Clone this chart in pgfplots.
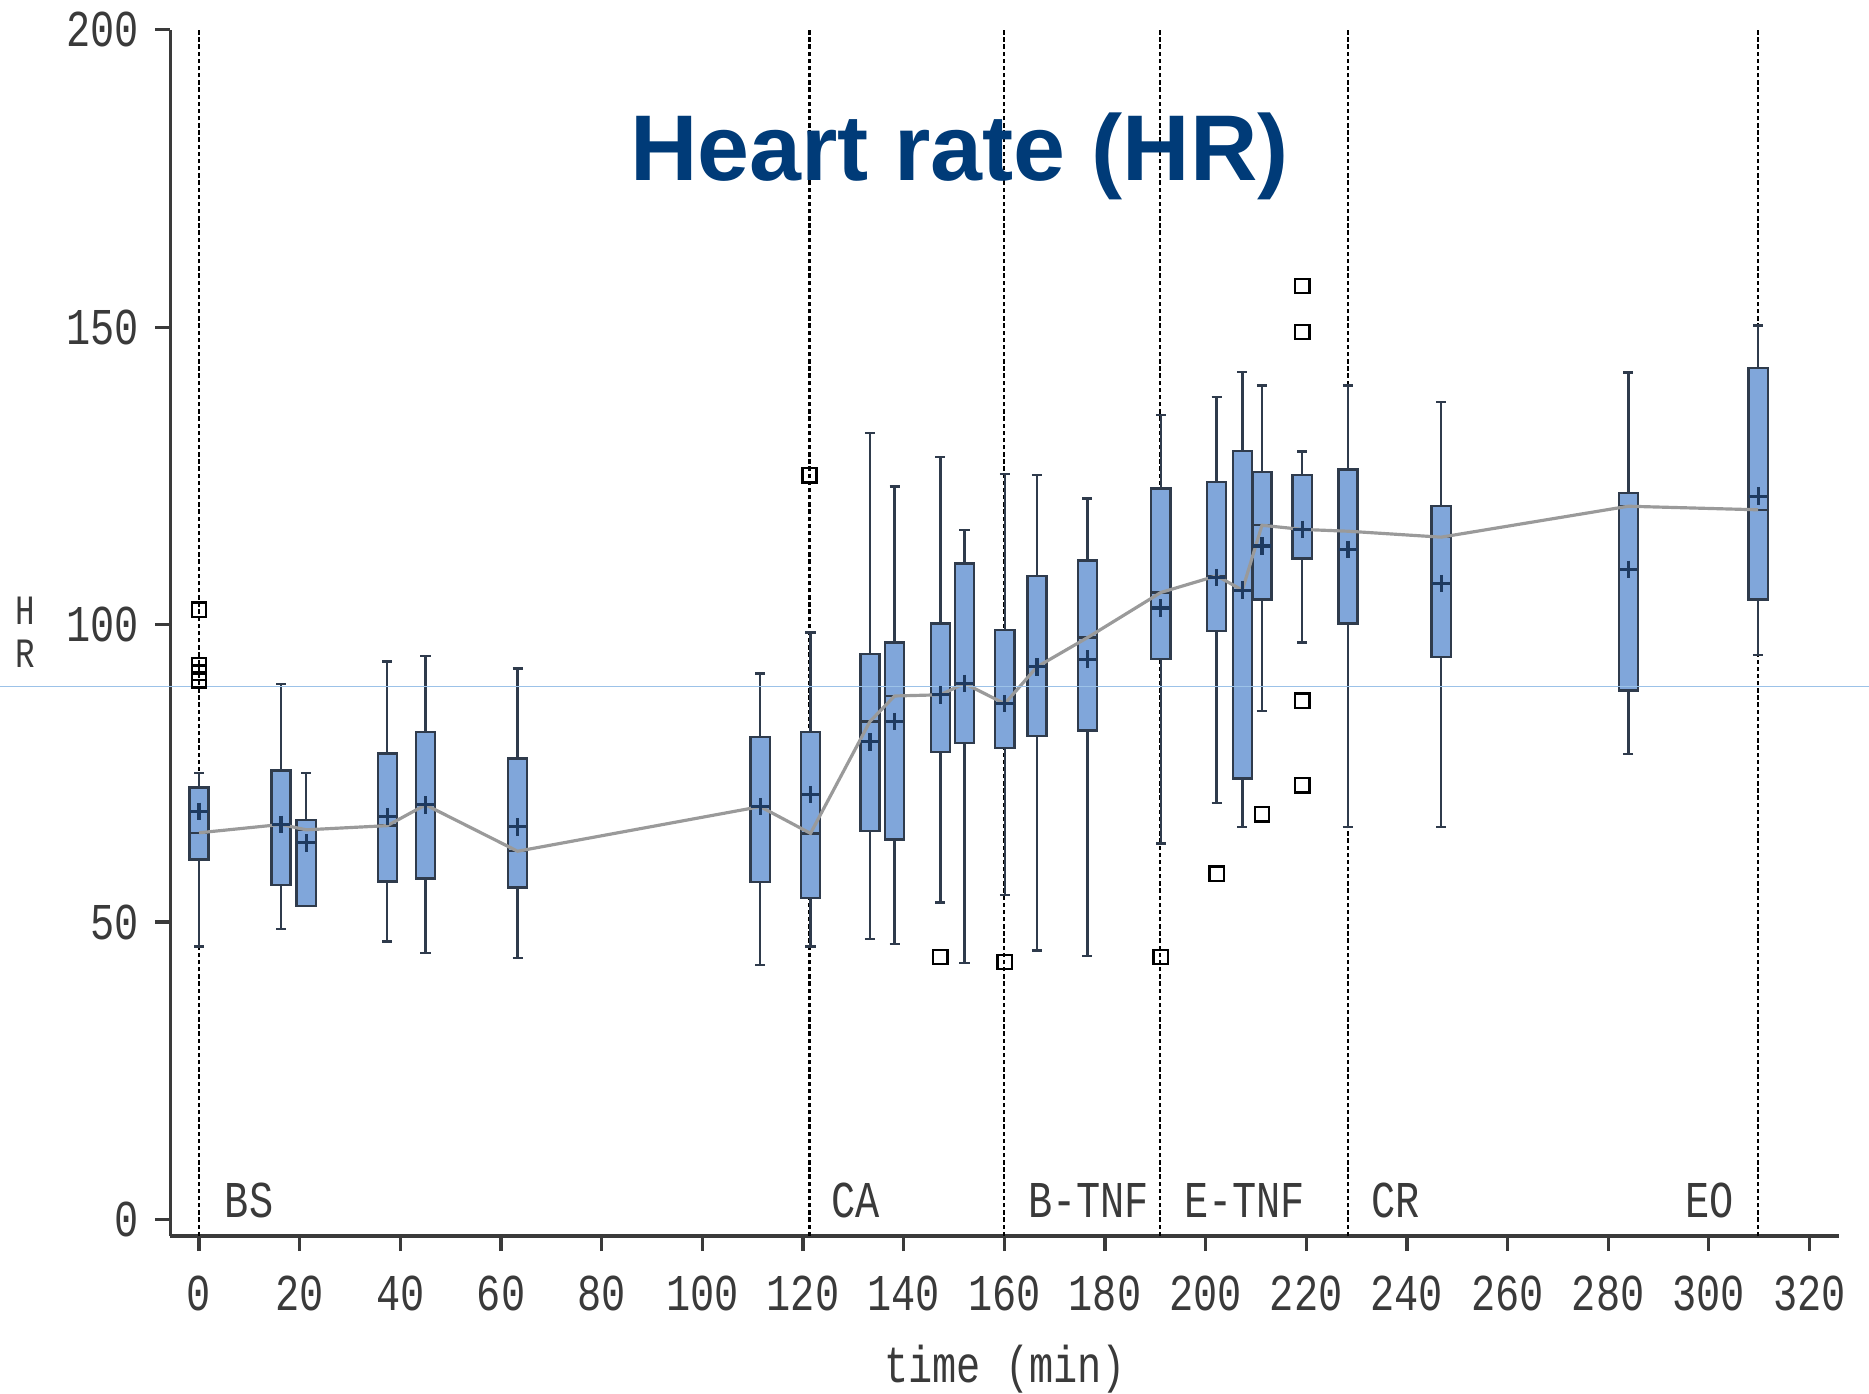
\documentclass[border=0pt]{standalone}
\usepackage{pgfplots}
\pgfplotsset{compat=1.18}
\usepgfplotslibrary{statistics}
\usepackage{fontspec}
\setmainfont{Liberation Sans}
\newfontfamily\sasfont[FakeStretch=0.78]{Liberation Mono}
\definecolor{boxfill}{HTML}{80A6DA}
\definecolor{boxedge}{HTML}{2F3B4C}
\definecolor{meancol}{HTML}{1E3A60}
\definecolor{titleblue}{HTML}{003B78}
\definecolor{txtgray}{HTML}{3A3A3A}
\definecolor{medgray}{HTML}{9A9A9A}
\definecolor{artblue}{HTML}{9CC2E8}
\newcommand{\sasf}{\sasfont\fontsize{13}{13}\selectfont}
\newcommand{\bx}[6]{\addplot[draw=boxedge, fill=boxfill, line width=0.6pt, solid,
  boxplot prepared={draw direction=y, draw position=#1, lower whisker=#2, lower quartile=#3,
  median=#4, upper quartile=#5, upper whisker=#6, box extend=3.8, whisker extend=2.0}]
  coordinates {};}
\begin{document}
\begin{tikzpicture}
\useasboundingbox (-42.9pt,-39.6pt) rectangle (427.5pt,311.1pt);
\begin{axis}[
  anchor=south west, at={(0,0)},
  scale only axis, width=420pt, height=303.6pt,
  xmin=-5.68, xmax=325.9, ymin=-2.8, ymax=200,
  axis lines=left, axis line style={-, draw=txtgray, line width=0.8pt},
  clip=false,
  xtick={0,20,...,320}, ytick={0,50,...,200},
  tick align=outside, major tick length=3.8pt,
  tick style={draw=txtgray, line width=0.8pt},
  /pgf/number format/assume math mode=true,
  ticklabel style={font=\sasf, text=txtgray},
  xticklabel style={anchor=north, inner sep=0pt, yshift=-6pt},
  yticklabel style={anchor=east, inner sep=0pt, xshift=-4pt},
]
% phase boundaries
\addplot[black, line width=0.6pt, dash pattern=on 1.1pt off 0.7pt] coordinates {(0,-2.8) (0,200)};
\addplot[black, line width=0.6pt, dash pattern=on 1.1pt off 0.7pt] coordinates {(121.3,-2.8) (121.3,200)};
\addplot[black, line width=0.6pt, dash pattern=on 1.1pt off 0.7pt] coordinates {(159.9,-2.8) (159.9,200)};
\addplot[black, line width=0.6pt, dash pattern=on 1.1pt off 0.7pt] coordinates {(190.9,-2.8) (190.9,200)};
\addplot[black, line width=0.6pt, dash pattern=on 1.1pt off 0.7pt] coordinates {(228.3,-2.8) (228.3,200)};
\addplot[black, line width=0.6pt, dash pattern=on 1.1pt off 0.7pt] coordinates {(309.8,-2.8) (309.8,200)};
% boxes: position, lower whisker, lower quartile, median, upper quartile, upper whisker
\bx{0}{45.9}{60.5}{65.0}{72.6}{75.0}
\bx{16.3}{48.8}{56.2}{66.4}{75.5}{90.0}
\bx{21.3}{52.7}{52.7}{65.5}{67.2}{75.1}
\bx{37.4}{46.7}{56.8}{66.2}{78.3}{93.8}
\bx{45.0}{44.8}{57.3}{69.7}{81.9}{94.7}
\bx{63.3}{43.9}{55.8}{61.9}{77.5}{92.6}
\bx{111.5}{42.8}{56.7}{69.4}{81.1}{91.8}
\bx{121.5}{45.9}{54.0}{64.9}{81.9}{98.7}
\bx{133.3}{47.1}{65.3}{83.7}{95.1}{132.2}
\bx{138.2}{46.3}{63.9}{88.0}{97.0}{123.2}
\bx{147.3}{53.3}{78.6}{88.2}{100.2}{128.2}
\bx{152.1}{43.1}{80.1}{90.1}{110.3}{115.9}
\bx{160.1}{54.5}{79.3}{86.7}{99.1}{125.3}
\bx{166.5}{45.2}{81.3}{92.9}{108.2}{125.2}
\bx{176.5}{44.3}{82.2}{97.8}{110.8}{121.2}
\bx{191.1}{63.2}{94.2}{105.4}{122.9}{135.2}
\bx{202.2}{70.0}{98.9}{108.2}{124.0}{138.3}
\bx{207.3}{66.0}{74.1}{105.8}{129.2}{142.5}
\bx{211.2}{85.5}{104.2}{116.7}{125.7}{140.2}
\bx{219.2}{97.0}{111.1}{116.0}{125.2}{129.1}
\bx{228.3}{66.0}{100.2}{115.7}{126.1}{140.2}
\bx{246.8}{66.0}{94.6}{114.7}{119.9}{137.4}
\bx{284.0}{78.2}{88.9}{119.9}{122.1}{142.4}
\bx{309.8}{94.9}{104.2}{119.3}{143.1}{150.3}
% median line
\addplot[medgray, line width=0.8pt] coordinates {
(0,65.0) (16.3,66.4) (21.3,65.5) (37.4,66.2) (45.0,69.7) (63.3,61.9)
(111.5,69.4) (121.5,64.9) (133.3,83.7) (138.2,88.0) (147.3,88.2) (152.1,90.1)
(160.1,86.7) (166.5,92.9) (176.5,97.8) (191.1,105.4) (202.2,108.2) (207.3,105.8)
(211.2,116.7) (219.2,116.0) (228.3,115.7) (246.8,114.7) (284.0,119.9) (309.8,119.3)};
% means
\addplot[only marks, mark=+, mark size=2.2pt, meancol, line width=0.8pt] coordinates {
(0,68.6) (16.3,66.4) (21.3,63.3) (37.4,67.7) (45.0,69.7) (63.3,66.0)
(111.5,69.4) (121.5,71.4) (133.3,80.3) (138.2,83.7) (147.3,88.2) (152.1,90.1)
(160.1,86.7) (166.5,92.9) (176.5,94.2) (191.1,102.8) (202.2,107.9) (207.3,105.8)
(211.2,113.2) (219.2,116.0) (228.3,112.6) (246.8,106.9) (284.0,109.3) (309.8,121.6)};
% outliers
\addplot[only marks, mark=square, mark size=1.8pt, black, line width=0.6pt] coordinates {
(0,102.5) (0,93.2) (0,91.9) (0,90.6) (121.3,125.1) (147.3,44.1) (160.1,43.3)
(191.1,44.1) (202.2,58.1) (211.2,68.1) (219.2,156.9) (219.2,149.2) (219.2,87.2) (219.2,73.0)};
% stray horizontal line
\addplot[artblue, line width=0.35pt] coordinates {(-40,89.6) (332,89.6)};
% texts
\node[anchor=base, font=\bfseries\fontsize{23.5}{23.5}\selectfont, text=titleblue, inner sep=0pt] at (axis cs:151.1,174.7) {Heart rate (HR)};
\node[anchor=base west, font=\sasf, text=txtgray, inner sep=0pt] at (axis cs:5.0,0.3) {BS};
\node[anchor=base west, font=\sasf, text=txtgray, inner sep=0pt] at (axis cs:125.5,0.3) {CA};
\node[anchor=base west, font=\sasf, text=txtgray, inner sep=0pt] at (axis cs:164.6,0.3) {B-TNF};
\node[anchor=base west, font=\sasf, text=txtgray, inner sep=0pt] at (axis cs:195.6,0.3) {E-TNF};
\node[anchor=base west, font=\sasf, text=txtgray, inner sep=0pt] at (axis cs:232.8,0.3) {CR};
\node[anchor=base west, font=\sasf, text=txtgray, inner sep=0pt] at (axis cs:295.1,0.3) {EO};
\node[anchor=base, font=\sasf, text=txtgray, inner sep=0pt] at (axis cs:160.2,-27.5) {time (min)};
\node[anchor=base, font=\sasfont\fontsize{10.5}{10.5}\selectfont, text=txtgray, inner sep=0pt] at (axis cs:-34.6,100.0) {H};
\node[anchor=base, font=\sasfont\fontsize{10.5}{10.5}\selectfont, text=txtgray, inner sep=0pt] at (axis cs:-34.6,92.8) {R};
\end{axis}
\end{tikzpicture}
\end{document}
